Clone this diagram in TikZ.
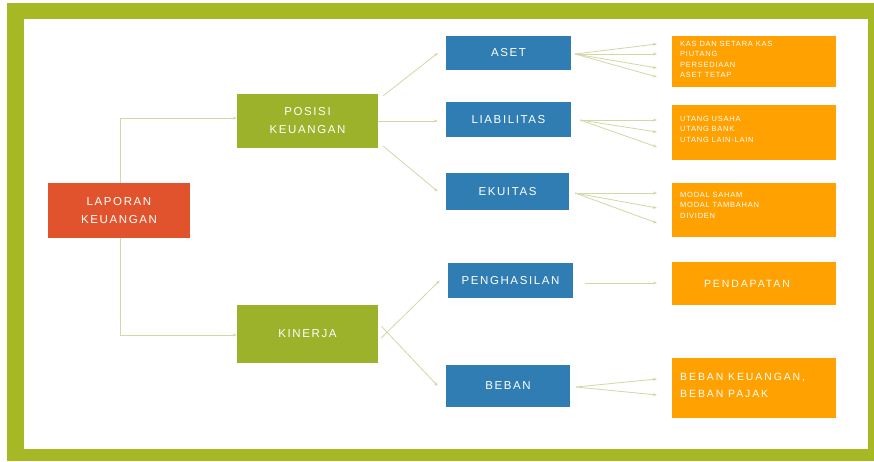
\documentclass[tikz,border=0pt]{standalone}
\usepackage{fontspec}
\setmainfont{Liberation Sans}
\newfontfamily\widefont[LetterSpace=14]{Liberation Sans}
\newfontfamily\smallwide[LetterSpace=10]{Liberation Sans}
\newfontfamily\orwide[LetterSpace=18]{Liberation Sans}
\usetikzlibrary{arrows.meta}
\pgfdeclarelayer{bg}
\pgfdeclarelayer{lines}
\pgfsetlayers{bg,lines,main}
\definecolor{frame}{HTML}{A6B924}
\definecolor{gbox}{HTML}{9CB22B}
\definecolor{rbox}{HTML}{E1532C}
\definecolor{bbox}{HTML}{2F7DB3}
\definecolor{obox}{HTML}{FFA100}
\definecolor{conn}{HTML}{D3D7A6}
\tikzset{
  base/.style={draw=none, inner sep=2pt, text=white, align=center, font=\widefont\fontsize{11.5}{18}\selectfont},
  redbox/.style={base, fill=rbox},
  greenbox/.style={base, fill=gbox},
  bluebox/.style={base, fill=bbox},
  orbox/.style={draw=none, fill=obox, text=white, align=left, inner sep=0pt},
  conline/.style={draw=conn, line width=0.8pt, -{Stealth[length=4pt,width=3pt]}},
  smalltxt/.style={font=\smallwide\fontsize{7.5}{10.5}\selectfont, text=white, align=left, anchor=north west, inner sep=0pt},
  bigortxt/.style={font=\orwide\fontsize{10.5}{17}\selectfont, text=white, inner sep=0pt},
}
\begin{document}
\begin{tikzpicture}[x=1pt,y=-1pt]
\useasboundingbox (0,0) rectangle (874,461);
\begin{pgfonlayer}{bg}
\fill[frame] (7,3) rectangle (874,461);
\fill[white] (24,19) rectangle (868,449);
\end{pgfonlayer}
% main boxes
\node[redbox, minimum width=142pt, minimum height=55pt] (lk) at (119,210.5) {LAPORAN\\KEUANGAN};
\node[greenbox, minimum width=141pt, minimum height=54pt] (pk) at (307.5,121) {POSISI\\KEUANGAN};
\node[greenbox, minimum width=141pt, minimum height=58pt] (kin) at (307.5,334) {KINERJA};
\node[bluebox, minimum width=125pt, minimum height=34pt] (aset) at (508.5,53) {ASET};
\node[bluebox, minimum width=125pt, minimum height=35pt] (liab) at (508.5,119.5) {LIABILITAS};
\node[bluebox, minimum width=123pt, minimum height=37pt] (ekui) at (507.5,191.5) {EKUITAS};
\node[bluebox, minimum width=125pt, minimum height=35pt] (peng) at (510.5,280.5) {PENGHASILAN};
\node[bluebox, minimum width=124pt, minimum height=42pt] (beban) at (508,386) {BEBAN};
% orange boxes
\node[orbox, minimum width=164pt, minimum height=51pt] (oa) at (754,61.5) {};
\node[orbox, minimum width=164pt, minimum height=55pt] (ol) at (754,132.5) {};
\node[orbox, minimum width=164pt, minimum height=54pt] (oe) at (754,210) {};
\node[orbox, minimum width=164pt, minimum height=43pt] (op) at (754,283.5) {};
\node[orbox, minimum width=164pt, minimum height=60pt] (ob) at (754,388) {};
\node[smalltxt] (ta) at (680,41) {KAS DAN SETARA KAS\\PIUTANG\\PERSEDIAAN\\ASET TETAP};
\node[smalltxt] (tl) at (680,116) {UTANG USAHA\\UTANG BANK\\UTANG LAIN-LAIN};
\node[smalltxt] (te) at (680,192) {MODAL SAHAM\\MODAL TAMBAHAN\\DIVIDEN};
\node[bigortxt] (tp) at (747,284) {PENDAPATAN};
\node[bigortxt, align=left, anchor=north west] (tb) at (680,373) {BEBAN KEUANGAN,\\BEBAN PAJAK};
\begin{pgfonlayer}{lines}
% connectors from laporan
\coordinate (lkt) at (120,118);
\coordinate (lkb) at (120,335);
\draw[conn, line width=0.8pt] (lkt) -- (lkb);
\draw[conline] (lkt) -- (pk.west |- lkt);
\draw[conline] (lkb) -- (kin.west |- lkb);
% from posisi
\draw[conline] (pk.north east) ++(5,2) -- ([xshift=-8pt]aset.west);
\draw[conline] (pk.east) -- ([xshift=-8pt]liab.west |- pk.east);
\draw[conline] (pk.south east) ++(5,-2) -- ([xshift=-8pt]ekui.west);
% from kinerja
\draw[conline] ([xshift=3pt,yshift=-4pt]kin.east) -- ([xshift=-8pt]peng.west);
\draw[conline] ([xshift=3pt,yshift=8pt]kin.east) -- ([xshift=-8pt]beban.west);
% to detail boxes
\coordinate (as) at (575,54);
\foreach \y in {44,54,68,77} \draw[conline] (as) -- (657,\y);
\coordinate (ls) at (580,120);
\foreach \y in {120,132,147} \draw[conline] (ls) -- (657,\y);
\coordinate (es) at (575,193);
\foreach \y in {193,208,223} \draw[conline] (es) -- (657,\y);
\coordinate (ps) at (585,283);
\draw[conline] (ps) -- (657,283);
\coordinate (bs) at (576,387);
\foreach \y in {379,395} \draw[conline] (bs) -- (657,\y);
\end{pgfonlayer}
\end{tikzpicture}
\end{document}
